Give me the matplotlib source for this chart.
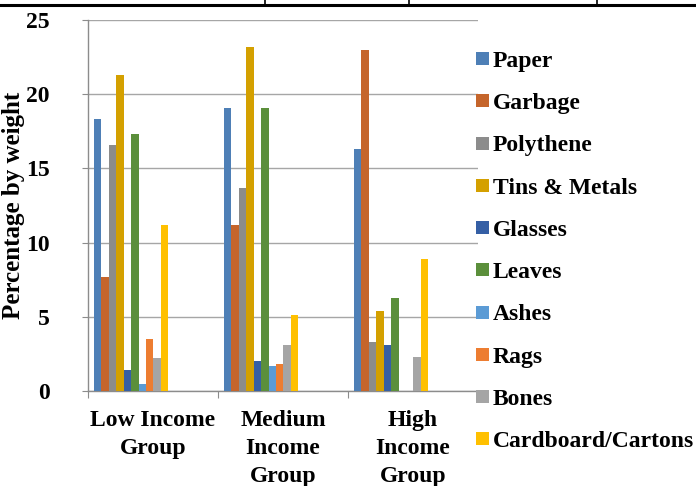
import numpy as np
import matplotlib; matplotlib.use("Agg")
import matplotlib.pyplot as plt
from matplotlib.lines import Line2D

plt.rcParams["font.family"] = ["Liberation Serif", "DejaVu Serif"]
plt.rcParams["font.weight"] = "bold"

groups = ["Low Income\nGroup", "Medium\nIncome\nGroup", "High\nIncome\nGroup"]
materials = ["Paper", "Garbage", "Polythene", "Tins & Metals", "Glasses",
             "Leaves", "Ashes", "Rags", "Bones", "Cardboard/Cartons"]
colors = ["#4E7FB6", "#C5652B", "#8C8C8C", "#D4A000", "#355FA5",
          "#5B8F3B", "#5B9BD5", "#ED7D31", "#A5A5A5", "#FFC000"]

paper = [18.3, 19.1, 16.3]
garbage = [7.7, 11.2, 23.0]
polythene = [16.6, 13.7, 3.3]
tins = [21.3, 23.2, 5.4]
glasses = [1.4, 2.0, 3.1]
leaves = [17.3, 19.1, 6.3]
ashes = [0.5, 1.7, 0.0]
rags = [3.5, 1.8, 0.0]
bones = [2.2, 3.1, 2.3]
cardboard = [11.2, 5.1, 8.9]
series = [paper, garbage, polythene, tins, glasses, leaves, ashes, rags, bones, cardboard]

W, H = 6.96, 4.86
fig = plt.figure(figsize=(W, H), dpi=100)
ax = fig.add_axes([88 / 696, 95 / 486, 390 / 696, 371 / 486])

x = np.arange(len(groups))
bw = 7.43 / 130
start = -0.5 + 6 / 130
handles = []
for j, (name, vals, c) in enumerate(zip(materials, series, colors)):
    h = ax.bar(x + start + j * bw, vals, width=bw, align="edge", color=c,
               edgecolor="none", label=name, zorder=3)
    handles.append(h)

ax.set_xlim(-0.5, 2.5)
ax.set_ylim(0, 25)
ax.set_yticks([0, 5, 10, 15, 20, 25])
ax.yaxis.grid(True, color="#A6A6A6", lw=1.0, zorder=0)
for s in ["top", "right"]:
    ax.spines[s].set_visible(False)
for s in ["left", "bottom"]:
    ax.spines[s].set_color("#8C8C8C")
    ax.spines[s].set_linewidth(1.0)

# group boundaries carry the tick marks, group centres carry the names
ax.set_xticks([-0.5, 0.5, 1.5, 2.5])
ax.set_xticklabels([])
ax.set_xticks(x, minor=True)
ax.set_xticklabels(groups, minor=True, fontsize=17, fontweight="bold", linespacing=1.42)
ax.tick_params(axis="x", which="minor", length=0, pad=14)
ax.tick_params(axis="x", which="major", length=5, color="#8C8C8C")
ax.tick_params(axis="y", length=4.5, color="#8C8C8C", pad=23, labelsize=17)
for t in ax.get_yticklabels():
    t.set_fontweight("bold")

ax.set_ylabel("Percentage by weight", fontsize=18, fontweight="bold")
ax.yaxis.set_label_coords(-0.162, 0.5)

ax.legend(handles=handles, loc="upper left", bbox_to_anchor=(476 / 696, 1 - 51 / 486),
          bbox_transform=fig.transFigure, frameon=False, borderpad=0, borderaxespad=0,
          handlelength=0.55, handleheight=0.47, handletextpad=0.15, labelspacing=0.9,
          prop={"size": 17, "weight": "bold"})

# rule of the table above the chart
fig.add_artist(Line2D([0, 1], [1 - 5 / 486] * 2, transform=fig.transFigure,
                      color="black", lw=2.2))
for vx in [265, 409, 597]:
    fig.add_artist(Line2D([vx / 696] * 2, [1, 1 - 5 / 486], transform=fig.transFigure,
                          color="black", lw=1.2))

fig.savefig("out.png", dpi=100)
